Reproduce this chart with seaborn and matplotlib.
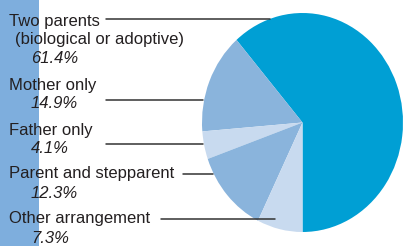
import matplotlib
matplotlib.use("Agg")
import matplotlib.pyplot as plt
import seaborn as sns

# data
labels = ["Two parents", "Mother only", "Father only", "Parent and stepparent", "Other arrangement"]
label_sub = ["(biological or adoptive)", "", "", "", ""]
shares = [61.4, 14.9, 4.1, 12.3, 7.3]
colors = ["#009fd4", "#8ab4dc", "#c8daef", "#8ab4dc", "#c8daef"]

sns.set_theme(style="white")
plt.rcParams["font.family"] = ["Liberation Sans", "DejaVu Sans"]

W, H = 403, 246
fig = plt.figure(figsize=(W / 100, H / 100), dpi=100)

# pie (slightly taller than wide, like the reference)
pax = fig.add_axes([202 / W, (H - 232) / H, 201 / W, 219 / H])
pax.pie(shares, colors=colors, startangle=-90, counterclock=True,
        wedgeprops=dict(linewidth=0))
pax.set_aspect("auto")
pax.set_xlim(-1, 1)
pax.set_ylim(-1, 1)
pax.axis("off")

# left blue strip + text/leader overlay in pixel coords, on top of the pie
ov = fig.add_axes([0, 0, 1, 1])
ov.patch.set_alpha(0)
ov.set_xlim(0, W)
ov.set_ylim(H, 0)
ov.axis("off")
ov.axvspan(0, 39, color="#7eaedd", lw=0, zorder=0)

txt = "#231f20"
fs = 12
# (name line baselines, percent baseline, leader y, leader x-start, leader x-end)
layout = [
    dict(name_y=[26, 44], pct_y=63, ly=19, lx=(106, 270)),
    dict(name_y=[90], pct_y=108, ly=100, lx=(106, 203)),
    dict(name_y=[135], pct_y=153, ly=144, lx=(106, 203)),
    dict(name_y=[178], pct_y=198, ly=174, lx=(183, 213)),
    dict(name_y=[223], pct_y=243, ly=219, lx=(161, 275)),
]

for name, sub, val, lay in zip(labels, label_sub, shares, layout):
    ov.text(9, lay["name_y"][0], name, fontsize=fs, color=txt, va="baseline", ha="left", zorder=3)
    if sub:
        ov.text(15, lay["name_y"][1], sub, fontsize=fs, color=txt, va="baseline", ha="left", zorder=3)
    ov.text(31, lay["pct_y"], f"{val}%", fontsize=fs, color=txt, style="italic",
            va="baseline", ha="left", zorder=3)
    ov.plot(lay["lx"], [lay["ly"], lay["ly"]], color="#333333", lw=1.1, zorder=4)

fig.savefig("out.png", dpi=100)
